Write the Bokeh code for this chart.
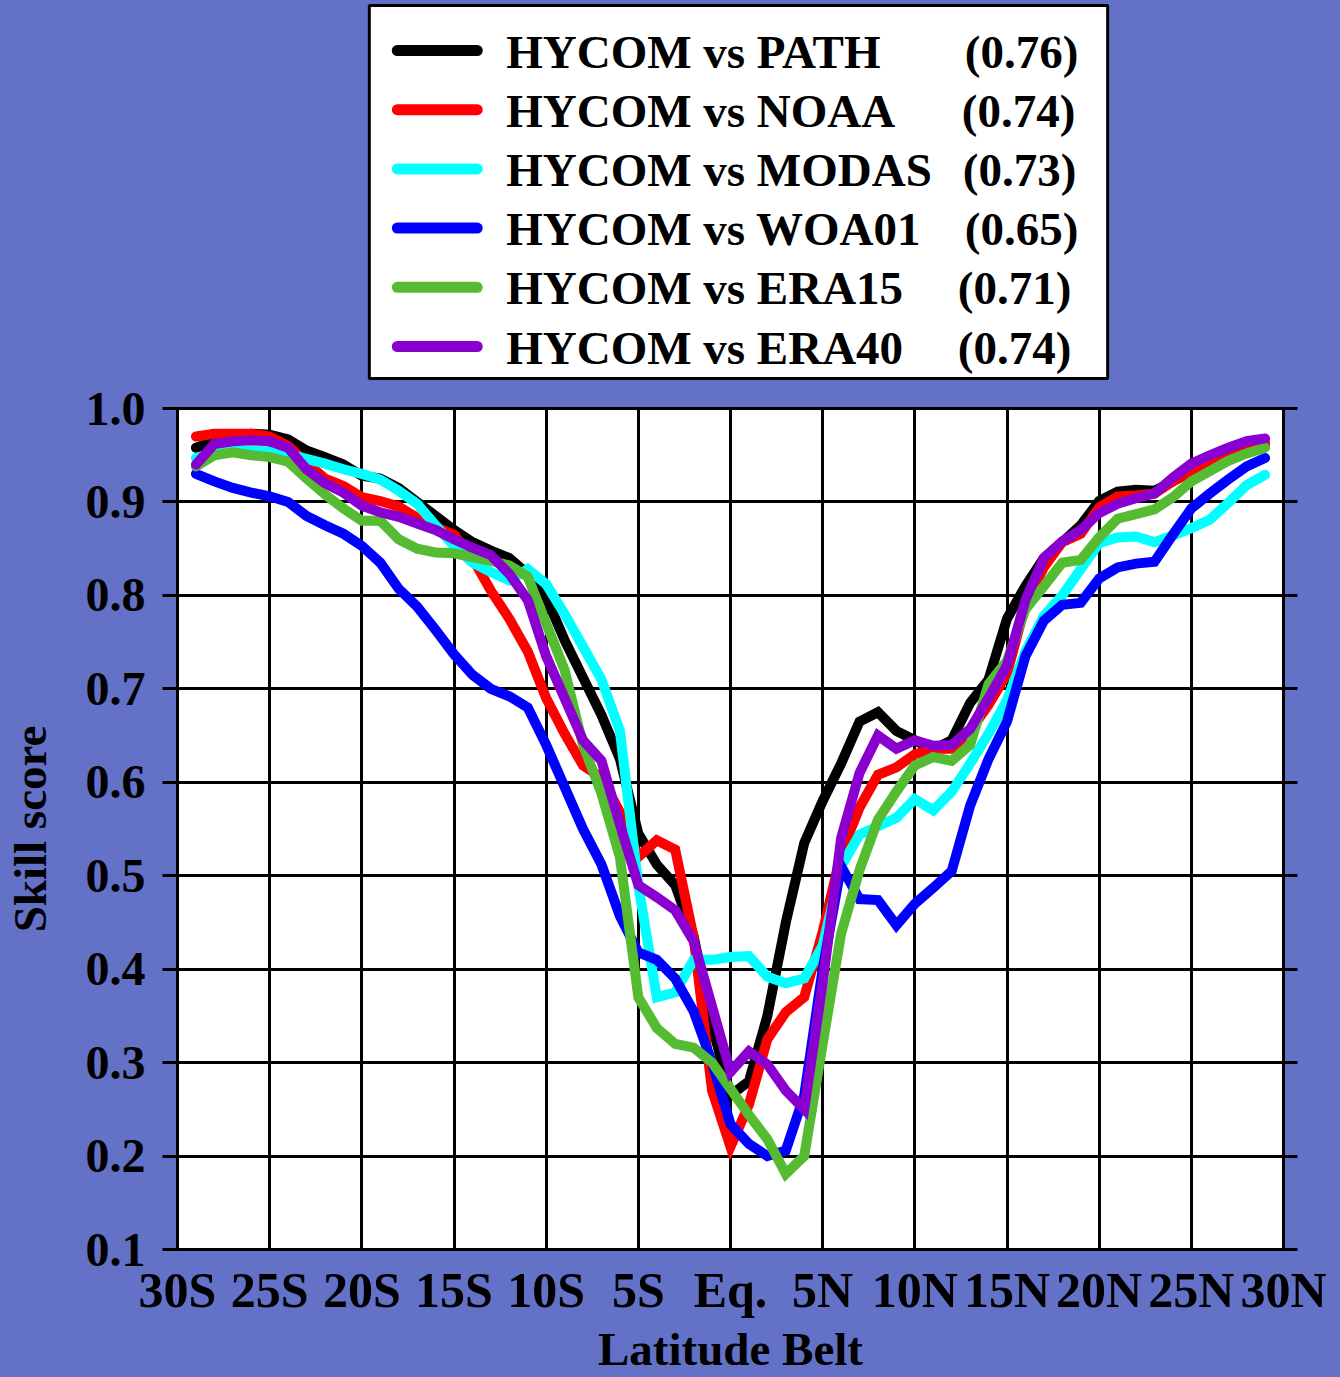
from bokeh.plotting import figure
from bokeh.layouts import column
from bokeh.models import Range1d, FixedTicker, NumeralTickFormatter, LinearAxis
from bokeh.core.properties import value
from bokeh.embed import file_html
from bokeh.resources import INLINE

# ---------------- data ----------------
LAT = [-29, -28, -27, -26, -25, -24, -23, -22, -21, -20,
       -19, -18, -17, -16, -15, -14, -13, -12, -11, -10,
       -9, -8, -7, -6, -5, -4, -3, -2, -1, 0,
       1, 2, 3, 4, 5, 6, 7, 8, 9, 10,
       11, 12, 13, 14, 15, 16, 17, 18, 19, 20,
       21, 22, 23, 24, 25, 26, 27, 28, 29]

PATH = [0.958, 0.965, 0.970, 0.973, 0.972, 0.967, 0.955, 0.948, 0.940, 0.928,
        0.925, 0.915, 0.900, 0.885, 0.870, 0.857, 0.848, 0.840, 0.823, 0.798,
        0.752, 0.712, 0.672, 0.625, 0.545, 0.512, 0.490, 0.435, 0.340, 0.265,
        0.280, 0.350, 0.450, 0.535, 0.580, 0.620, 0.665, 0.675, 0.655, 0.645,
        0.635, 0.645, 0.685, 0.710, 0.775, 0.810, 0.840, 0.857, 0.875, 0.901,
        0.911, 0.913, 0.912, 0.922, 0.933, 0.941, 0.948, 0.955, 0.962]

NOAA = [0.970, 0.973, 0.973, 0.973, 0.970, 0.960, 0.942, 0.925, 0.917, 0.905,
        0.901, 0.895, 0.883, 0.873, 0.865, 0.840, 0.805, 0.775, 0.740, 0.690,
        0.652, 0.618, 0.605, 0.568, 0.520, 0.538, 0.528, 0.434, 0.270, 0.210,
        0.255, 0.325, 0.354, 0.370, 0.440, 0.524, 0.573, 0.608, 0.616, 0.630,
        0.636, 0.636, 0.655, 0.683, 0.716, 0.790, 0.830, 0.857, 0.866, 0.894,
        0.906, 0.907, 0.909, 0.922, 0.932, 0.942, 0.950, 0.957, 0.963]

MODAS = [0.947, 0.952, 0.955, 0.955, 0.954, 0.951, 0.946, 0.941, 0.935, 0.930,
         0.924, 0.912, 0.898, 0.875, 0.853, 0.835, 0.825, 0.816, 0.828, 0.812,
         0.780, 0.745, 0.710, 0.655, 0.490, 0.370, 0.375, 0.410, 0.410, 0.413,
         0.414, 0.392, 0.385, 0.390, 0.425, 0.510, 0.544, 0.553, 0.562, 0.582,
         0.570, 0.590, 0.620, 0.652, 0.688, 0.740, 0.778, 0.800, 0.828, 0.856,
         0.862, 0.863, 0.857, 0.864, 0.872, 0.881, 0.899, 0.918, 0.929]

WOA01 = [0.930, 0.922, 0.915, 0.910, 0.906, 0.900, 0.885, 0.875, 0.866, 0.853,
         0.835, 0.807, 0.788, 0.763, 0.737, 0.715, 0.700, 0.692, 0.680, 0.640,
         0.595, 0.550, 0.512, 0.457, 0.418, 0.410, 0.390, 0.355, 0.300, 0.234,
         0.213, 0.200, 0.206, 0.265, 0.400, 0.510, 0.475, 0.474, 0.447, 0.470,
         0.487, 0.505, 0.575, 0.625, 0.665, 0.735, 0.773, 0.790, 0.792, 0.818,
         0.830, 0.834, 0.836, 0.865, 0.893, 0.909, 0.924, 0.938, 0.947]

ERA15 = [0.938, 0.950, 0.953, 0.950, 0.948, 0.943, 0.925, 0.908, 0.893, 0.880,
         0.880, 0.860, 0.850, 0.846, 0.845, 0.841, 0.837, 0.832, 0.820, 0.770,
         0.720, 0.640, 0.588, 0.520, 0.370, 0.337, 0.320, 0.316, 0.300, 0.272,
         0.244, 0.218, 0.181, 0.200, 0.320, 0.438, 0.506, 0.560, 0.590, 0.618,
         0.627, 0.623, 0.640, 0.705, 0.730, 0.785, 0.810, 0.835, 0.838, 0.862,
         0.882, 0.887, 0.892, 0.905, 0.922, 0.933, 0.944, 0.952, 0.958]

ERA40 = [0.940, 0.962, 0.965, 0.966, 0.965, 0.958, 0.935, 0.920, 0.910, 0.896,
         0.889, 0.884, 0.877, 0.870, 0.860, 0.851, 0.843, 0.823, 0.795, 0.735,
         0.690, 0.645, 0.623, 0.555, 0.490, 0.477, 0.463, 0.430, 0.360, 0.290,
         0.312, 0.298, 0.270, 0.250, 0.385, 0.540, 0.610, 0.650, 0.636, 0.645,
         0.639, 0.640, 0.657, 0.690, 0.725, 0.795, 0.840, 0.858, 0.870, 0.888,
         0.898, 0.904, 0.909, 0.926, 0.941, 0.950, 0.958, 0.965, 0.968]

SERIES = ["PATH", "NOAA", "MODAS", "WOA01", "ERA15", "ERA40"]
SCORES = ["(0.76)", "(0.74)", "(0.73)", "(0.65)", "(0.71)", "(0.74)"]
VALUES = [PATH, NOAA, MODAS, WOA01, ERA15, ERA40]
COLORS = ["#000000", "#FF0000", "#00FFFF", "#0000FF", "#55BB33", "#8A00D0"]

X_TICKS = [-30, -25, -20, -15, -10, -5, 0, 5, 10, 15, 20, 25, 30]
X_LABELS = ["30S", "25S", "20S", "15S", "10S", "5S", "Eq.", "5N",
            "10N", "15N", "20N", "25N", "30N"]
Y_TICKS = [0.1, 0.2, 0.3, 0.4, 0.5, 0.6, 0.7, 0.8, 0.9, 1.0]

# ---------------- style / layout ----------------
BG = "#6371C6"
FONT_NAME = "Liberation Serif"
FONT = value(FONT_NAME)
W, H = 1340, 1377
F_LEFT, F_RIGHT, F_TOP, F_BOTTOM = 176, 1283, 408, 1249   # main frame edges (page px)
LEG_H = 380                                               # height of the legend panel

# ---------------- legend panel (pixel-mapped ranges) ----------------
leg = figure(width=W, height=LEG_H, x_range=Range1d(F_LEFT, F_RIGHT),
             y_range=Range1d(LEG_H, 0), x_axis_type=None, y_axis_type=None,
             output_backend="svg", toolbar_location=None,
             min_border_left=F_LEFT, min_border_right=W - F_RIGHT,
             min_border_top=0, min_border_bottom=0)
leg.background_fill_color = BG
leg.border_fill_color = BG
leg.outline_line_color = None

leg.quad(left=368, right=1107, top=5, bottom=LEG_H - 2, fill_color="white",
         line_color="black", line_width=3)

row_y = [50 + 59.2 * i for i in range(len(SERIES))]
leg.segment(x0=396, x1=476, y0=row_y, y1=row_y, line_color=COLORS,
            line_width=11, line_cap="round")
leg.text(x=505, y=[y + 1 for y in row_y], text=["HYCOM vs " + s for s in SERIES],
         text_font=FONT, text_font_style="bold", text_font_size="47px",
         text_baseline="middle", text_align="left", text_color="black")
score_x = [964, 961, 962, 964, 957, 957]
leg.text(x=score_x, y=[y + 1 for y in row_y], text=SCORES,
         text_font=FONT, text_font_style="bold", text_font_size="47px",
         text_baseline="middle", text_align="left", text_color="black")

# ---------------- main plot ----------------
p = figure(width=W, height=H - LEG_H, x_range=Range1d(-30, 30),
           y_range=Range1d(0.1, 1.0), output_backend="svg", toolbar_location=None,
           min_border_left=F_LEFT, min_border_right=W - F_RIGHT,
           min_border_top=F_TOP - LEG_H, min_border_bottom=H - F_BOTTOM)
p.background_fill_color = "white"
p.border_fill_color = BG
p.outline_line_color = "black"
p.outline_line_width = 3

for vals, col in zip(VALUES, COLORS):
    p.line(LAT, vals, line_color=col, line_width=10, line_cap="round", line_join="miter")

xt = FixedTicker(ticks=X_TICKS)
yt = FixedTicker(ticks=Y_TICKS)

p.xaxis.ticker = xt
p.xaxis.major_label_overrides = {t: l for t, l in zip(X_TICKS, X_LABELS)}
p.yaxis.ticker = yt
p.yaxis.formatter = NumeralTickFormatter(format="0.0")

p.xgrid.ticker = xt
p.ygrid.ticker = yt
for g in (p.xgrid, p.ygrid):
    g.grid_line_color = "black"
    g.grid_line_width = 3
    g.grid_line_alpha = 1.0

for ax in (p.xaxis, p.yaxis):
    ax.axis_line_color = "black"
    ax.axis_line_width = 3
    ax.minor_tick_line_color = None
    ax.major_tick_line_color = "black"
    ax.major_tick_line_width = 3
    ax.major_tick_in = 0
    ax.major_label_text_font = FONT_NAME
    ax.major_label_text_font_style = "bold"
    ax.major_label_text_color = "black"
    ax.axis_label_text_font = FONT_NAME
    ax.axis_label_text_font_style = "bold"
    ax.axis_label_text_font_size = "47px"
    ax.axis_label_text_color = "black"

p.xaxis.major_tick_out = 0
p.xaxis.major_label_text_font_size = "50px"
p.xaxis.major_label_standoff = 12
p.xaxis.axis_label = "Latitude Belt"
p.xaxis.axis_label_standoff = 2

p.yaxis.major_tick_out = 15
p.yaxis.major_label_text_font_size = "48px"
p.yaxis.major_label_standoff = 17
p.yaxis.axis_label = "Skill score"
p.yaxis.axis_label_standoff = 27

yr = LinearAxis(ticker=yt, major_label_overrides={t: "" for t in Y_TICKS},
                major_tick_out=14, major_tick_in=0, major_tick_line_width=3,
                minor_tick_line_color=None, axis_line_width=3, major_label_standoff=0,
                major_label_text_font_size="10px")
p.add_layout(yr, "right")

layout = column(leg, p, spacing=0, styles={"background-color": BG})
open("out.html", "w").write(file_html(layout, INLINE))
